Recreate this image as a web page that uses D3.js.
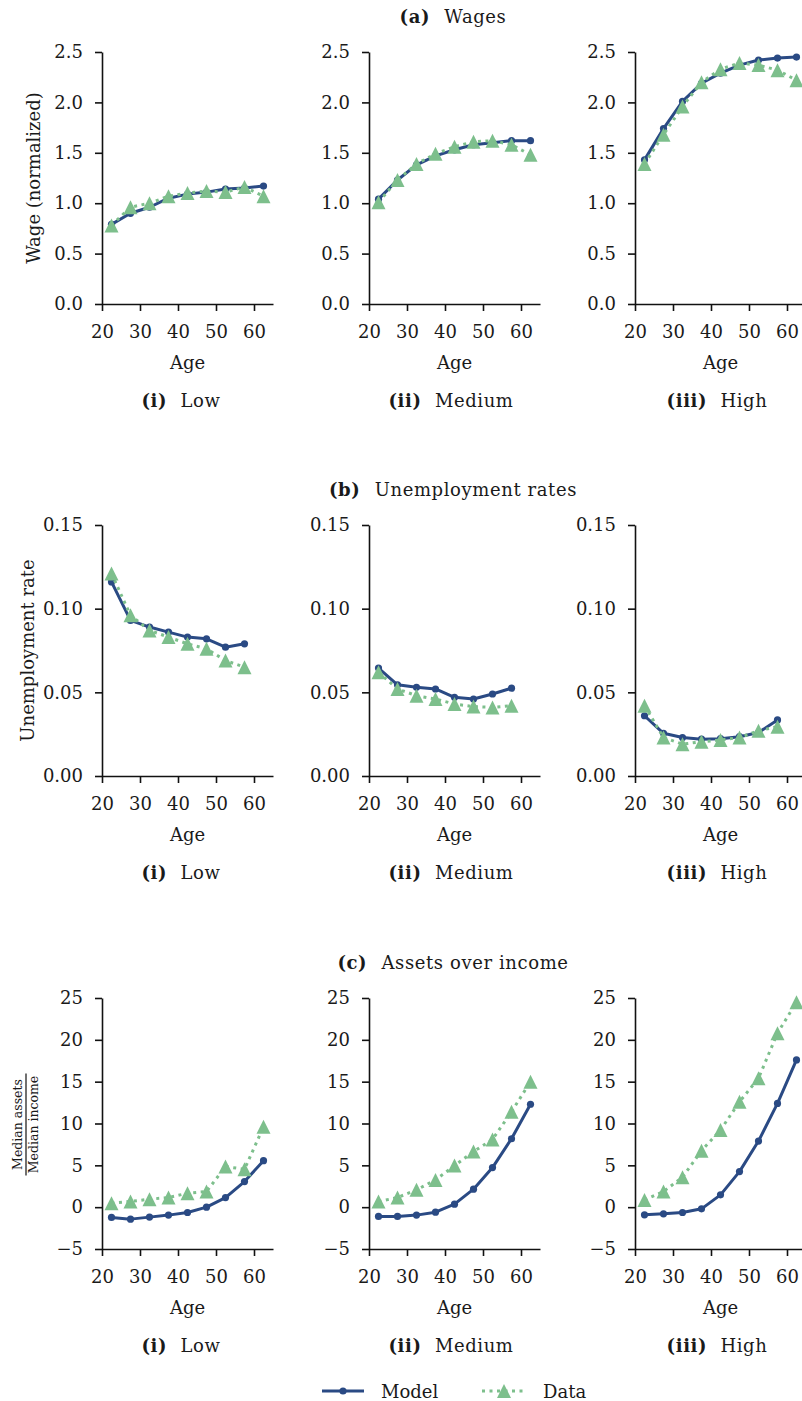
<!DOCTYPE html>
<html>
<head>
<meta charset="utf-8">
<script src="https://cdn.jsdelivr.net/npm/d3@7"></script>
<style>
  html, body { margin: 0; padding: 0; background: #fff; }
  svg { display: block; }
  text { font-family: "DejaVu Serif", serif; fill: #1a1a1a; }
</style>
</head>
<body>
<svg id="chart" width="802" height="1401"></svg>
<script>
// Age groups (midpoints of five-year bins)
const ages = [22.5, 27.5, 32.5, 37.5, 42.5, 47.5, 52.5, 57.5, 62.5];
const agesUnemp = [22.5, 27.5, 32.5, 37.5, 42.5, 47.5, 52.5, 57.5];

// (a) Wages, normalized
const wageModelLow  = [0.79, 0.90, 0.96, 1.05, 1.09, 1.11, 1.14, 1.15, 1.17];
const wageDataLow   = [0.78, 0.96, 1.00, 1.07, 1.10, 1.12, 1.11, 1.16, 1.07];
const wageModelMed  = [1.04, 1.23, 1.38, 1.47, 1.53, 1.58, 1.60, 1.62, 1.62];
const wageDataMed   = [1.01, 1.23, 1.39, 1.49, 1.56, 1.61, 1.62, 1.58, 1.48];
const wageModelHigh = [1.43, 1.74, 2.01, 2.19, 2.29, 2.37, 2.42, 2.44, 2.45];
const wageDataHigh  = [1.39, 1.68, 1.96, 2.20, 2.33, 2.39, 2.37, 2.32, 2.22];

// (b) Unemployment rates
const unempModelLow  = [0.116, 0.093, 0.089, 0.086, 0.083, 0.082, 0.077, 0.079];
const unempDataLow   = [0.121, 0.096, 0.087, 0.083, 0.079, 0.076, 0.069, 0.065];
const unempModelMed  = [0.0645, 0.0545, 0.053, 0.052, 0.047, 0.046, 0.049, 0.0525];
const unempDataMed   = [0.062, 0.052, 0.048, 0.046, 0.043, 0.0415, 0.041, 0.042];
const unempModelHigh = [0.036, 0.0255, 0.023, 0.022, 0.0223, 0.0235, 0.026, 0.0335];
const unempDataHigh  = [0.042, 0.023, 0.019, 0.0205, 0.0215, 0.023, 0.027, 0.0295];

// (c) Median assets over median income
const assetModelLow  = [-1.23, -1.43, -1.19, -0.95, -0.64, 0.0, 1.15, 3.06, 5.56];
const assetDataLow   = [0.48, 0.68, 0.95, 1.15, 1.67, 1.87, 4.85, 4.53, 9.6];
const assetModelMed  = [-1.11, -1.11, -0.95, -0.6, 0.36, 2.15, 4.73, 8.18, 12.3];
const assetDataMed   = [0.68, 1.15, 2.07, 3.26, 4.97, 6.64, 8.1, 11.4, 15.0];
const assetModelHigh = [-0.91, -0.79, -0.64, -0.2, 1.47, 4.25, 7.9, 12.4, 17.6];
const assetDataHigh  = [0.87, 1.87, 3.58, 6.75, 9.22, 12.6, 15.4, 20.8, 24.5];

// Tick values
const xTicks = [20, 30, 40, 50, 60];
const wageTicks = [0, 0.5, 1.0, 1.5, 2.0, 2.5];
const unempTicks = [0, 0.05, 0.10, 0.15];
const assetTicks = [-5, 0, 5, 10, 15, 20, 25];

// Text
const sectionLetters = ["(a)", "(b)", "(c)"];
const sectionTitles = ["Wages", "Unemployment rates", "Assets over income"];
const panelNumerals = ["(i)", "(ii)", "(iii)"];
const panelNames = ["Low", "Medium", "High"];
const seriesNames = ["Model", "Data"];

const BLUE = "#2a4a84";
const GREEN = "#7dbf8c";

const svg = d3.select("#chart");

// Layout
const colLeft = [102, 369, 635];
const colCaptionX = [181, 451, 717];
const plotW = 171;
const rows = [
  { top: 52,  bottom: 304,  domain: [0, 2.5],   ticks: wageTicks,  fmt: d3.format(".1f"),
    ylabel: "Wage (normalized)", ylabelX: 33,
    x: ages, model: [wageModelLow, wageModelMed, wageModelHigh], data: [wageDataLow, wageDataMed, wageDataHigh] },
  { top: 525, bottom: 776,  domain: [0, 0.15],  ticks: unempTicks, fmt: d3.format(".2f"),
    ylabel: "Unemployment rate", ylabelX: 27,
    x: agesUnemp, model: [unempModelLow, unempModelMed, unempModelHigh], data: [unempDataLow, unempDataMed, unempDataHigh] },
  { top: 998, bottom: 1249, domain: [-5, 25],   ticks: assetTicks, fmt: d => d < 0 ? "\u2212" + Math.abs(d) : String(d),
    ylabel: null,
    x: ages, model: [assetModelLow, assetModelMed, assetModelHigh], data: [assetDataLow, assetDataMed, assetDataHigh] }
];

const FS = 18;          // tick labels, axis titles, legend
const CAP_FS = 18;      // section headings and panel captions
const CAP_LS = 0.6;     // letter spacing for headings and captions
const triPath = r => `M0,${-r}L${-r},${r}L${r},${r}Z`;

function drawModel(g, xs, ys, x, y) {
  const pts = xs.map((a, i) => [a, ys[i]]);
  g.append("path")
    .attr("d", d3.line().x(d => x(d[0])).y(d => y(d[1]))(pts))
    .attr("fill", "none").attr("stroke", BLUE).attr("stroke-width", 3)
    .attr("stroke-linejoin", "round");
  g.selectAll(null).data(pts).enter().append("circle")
    .attr("cx", d => x(d[0])).attr("cy", d => y(d[1])).attr("r", 3.6)
    .attr("fill", BLUE);
}

function drawData(g, xs, ys, x, y) {
  const pts = xs.map((a, i) => [a, ys[i]]);
  g.append("path")
    .attr("d", d3.line().x(d => x(d[0])).y(d => y(d[1]))(pts))
    .attr("fill", "none").attr("stroke", GREEN).attr("stroke-width", 3)
    .attr("stroke-dasharray", "3,4.5");
  g.selectAll(null).data(pts).enter().append("path")
    .attr("d", triPath(7))
    .attr("transform", d => `translate(${x(d[0])},${y(d[1])})`)
    .attr("fill", GREEN);
}

rows.forEach((row, ri) => {
  // Section heading, centred over the middle column
  const head = svg.append("text")
    .attr("x", 453).attr("y", row.top - 29)
    .attr("text-anchor", "middle").attr("font-size", CAP_FS)
    .attr("letter-spacing", CAP_LS);
  head.append("tspan").attr("font-weight", "bold").text(sectionLetters[ri]);
  head.append("tspan").attr("dx", 8).text(" " + sectionTitles[ri]);

  const y = d3.scaleLinear().domain(row.domain).range([row.bottom, row.top]);

  colLeft.forEach((left, ci) => {
    const x = d3.scaleLinear().domain([20, 65]).range([left, left + plotW]);
    const g = svg.append("g");

    // Axes
    const xAxis = svg.append("g")
      .attr("transform", `translate(0,${row.bottom})`)
      .call(d3.axisBottom(x).tickValues(xTicks).tickSize(7).tickSizeOuter(0).tickPadding(14));
    const yAxis = svg.append("g")
      .attr("transform", `translate(${left},0)`)
      .call(d3.axisLeft(y).tickValues(row.ticks).tickFormat(row.fmt).tickSize(7).tickSizeOuter(0).tickPadding(12));
    [xAxis, yAxis].forEach(a => {
      a.select(".domain").attr("stroke", "#111").attr("stroke-width", 1.6);
      a.selectAll(".tick line").attr("stroke", "#111").attr("stroke-width", 1.6);
      a.selectAll(".tick text").attr("font-family", "DejaVu Serif, serif").attr("font-size", FS).attr("fill", "#1a1a1a");
    });

    // Series
    drawModel(g, row.x, row.model[ci], x, y);
    drawData(g, row.x, row.data[ci], x, y);

    // Axis title and panel caption
    svg.append("text")
      .attr("x", left + plotW / 2).attr("y", row.bottom + 65)
      .attr("text-anchor", "middle").attr("font-size", FS).text("Age");
    const cap = svg.append("text")
      .attr("x", colCaptionX[ci]).attr("y", row.bottom + 103)
      .attr("text-anchor", "middle").attr("font-size", CAP_FS)
      .attr("letter-spacing", CAP_LS);
    cap.append("tspan").attr("font-weight", "bold").text(panelNumerals[ci]);
    cap.append("tspan").attr("dx", 7).text(" " + panelNames[ci]);
  });

  // Y-axis label on the first column
  const cy = (row.top + row.bottom) / 2;
  if (row.ylabel) {
    svg.append("text")
      .attr("transform", `translate(${row.ylabelX},${cy}) rotate(-90)`)
      .attr("text-anchor", "middle").attr("dominant-baseline", "central")
      .attr("font-size", FS).text(row.ylabel);
  } else {
    const fr = svg.append("g").attr("transform", `translate(26,${cy + 1}) rotate(-90)`);
    fr.append("text").attr("x", 0).attr("y", -4)
      .attr("text-anchor", "middle").attr("font-size", 12.5).text("Median assets");
    fr.append("text").attr("x", 0).attr("y", 12)
      .attr("text-anchor", "middle").attr("font-size", 12.5).text("Median income");
    fr.append("line").attr("x1", -51).attr("x2", 51).attr("y1", 0).attr("y2", 0)
      .attr("stroke", "#111").attr("stroke-width", 1.2);
  }
});

// Legend
const legY = 1391;
const leg = svg.append("g");
leg.append("line").attr("x1", 322).attr("x2", 364).attr("y1", legY).attr("y2", legY)
  .attr("stroke", BLUE).attr("stroke-width", 3);
leg.append("circle").attr("cx", 343).attr("cy", legY).attr("r", 3.6).attr("fill", BLUE);
leg.append("text").attr("x", 381).attr("y", legY).attr("dominant-baseline", "central")
  .attr("font-size", FS).text(seriesNames[0]);
leg.append("line").attr("x1", 482).attr("x2", 526).attr("y1", legY).attr("y2", legY)
  .attr("stroke", GREEN).attr("stroke-width", 3).attr("stroke-dasharray", "3,4.5");
leg.append("path").attr("d", triPath(7)).attr("transform", `translate(504,${legY})`).attr("fill", GREEN);
leg.append("text").attr("x", 543).attr("y", legY).attr("dominant-baseline", "central")
  .attr("font-size", FS).text(seriesNames[1]);
</script>
</body>
</html>
